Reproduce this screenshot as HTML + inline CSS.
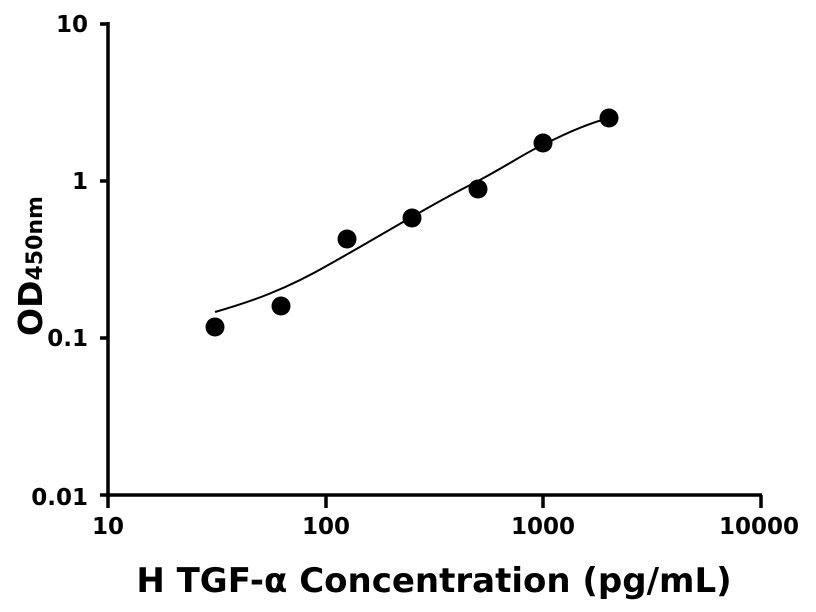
<!DOCTYPE html>
<html><head><style>body{margin:0;background:#fff}svg{display:block}</style></head><body>
<svg width="816" height="612" xmlns="http://www.w3.org/2000/svg" font-family="DejaVu Sans, Liberation Sans, sans-serif" font-weight="bold">
<g stroke="#000" stroke-width="3.5" fill="none">
<line x1="108" y1="22" x2="108" y2="497"/>
<line x1="106" y1="495" x2="762" y2="495"/>
<line x1="100" y1="24" x2="108" y2="24"/>
<line x1="100" y1="181" x2="108" y2="181"/>
<line x1="100" y1="338" x2="108" y2="338"/>
<line x1="100" y1="495" x2="108" y2="495"/>
<line x1="108" y1="495" x2="108" y2="508"/>
<line x1="326" y1="495" x2="326" y2="508"/>
<line x1="543" y1="495" x2="543" y2="508"/>
<line x1="761" y1="495" x2="761" y2="508"/>
</g>
<path d="M215,312 C250,302 285,290 330,264 C380,236 430,205 478,181 C510,164 530,150 543,145 C570,131 590,123 609,118" stroke="#000" stroke-width="2" fill="none"/>
<g fill="#000">
<circle cx="215" cy="327" r="9.5"/><circle cx="281" cy="306" r="9.5"/><circle cx="347" cy="239" r="9.5"/>
<circle cx="412" cy="218" r="9.5"/><circle cx="478" cy="189" r="9.5"/><circle cx="543" cy="143" r="9.5"/><circle cx="609" cy="118" r="9.5"/>
</g>
<g font-size="23" text-anchor="end">
<text x="88" y="32">10</text><text x="88" y="189">1</text><text x="88" y="346">0.1</text><text x="88" y="505">0.01</text>
</g>
<g font-size="23" text-anchor="middle">
<text x="108" y="534">10</text><text x="326" y="534">100</text><text x="543" y="534">1000</text><text x="759" y="534">10000</text>
</g>
<text x="434" y="592" font-size="34" text-anchor="middle">H TGF-α Concentration (pg/mL)</text>
<text transform="translate(42,266) rotate(-90)" font-size="33" text-anchor="middle">OD<tspan font-size="22">450nm</tspan></text>
</svg>
</body></html>
